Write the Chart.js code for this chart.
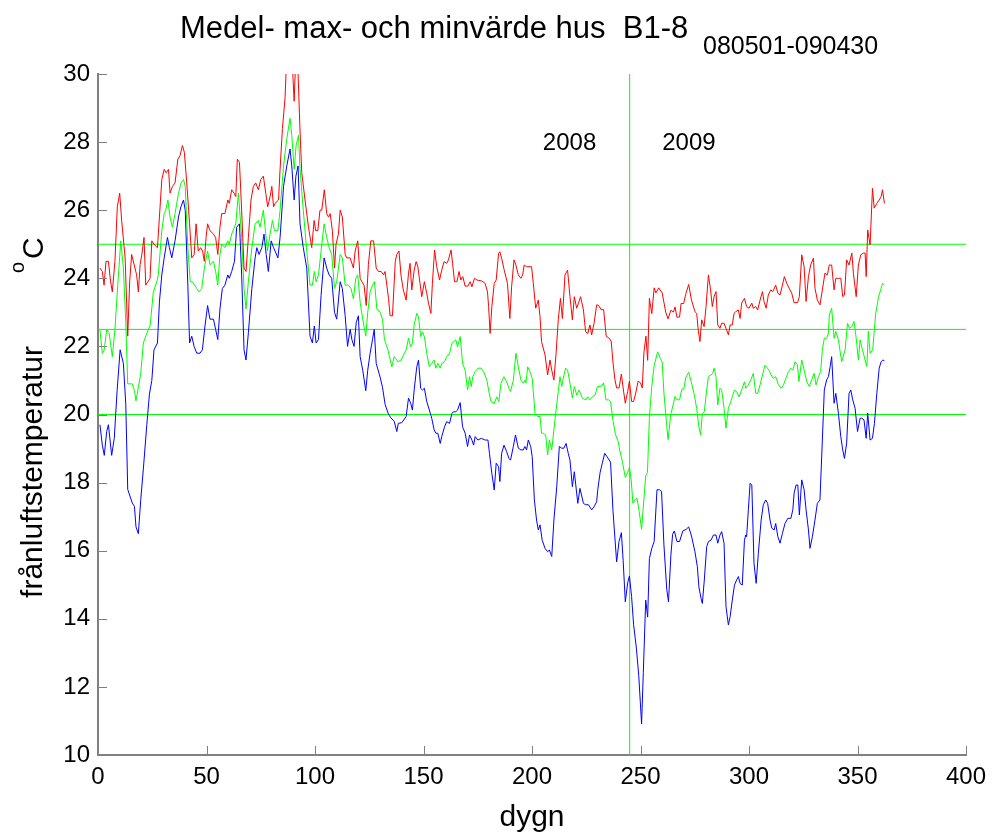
<!DOCTYPE html>
<html>
<head>
<meta charset="utf-8">
<script src="https://cdn.jsdelivr.net/npm/chart.js@4.4.1/dist/chart.umd.min.js"></script>
<style>
html,body{margin:0;padding:0;background:#ffffff;}
#wrap{width:992px;height:835px;position:relative;}
</style>
</head>
<body>
<div id="wrap"><canvas id="c" width="992" height="835"></canvas></div>
<script>
// ---- chart text ----
const titleText = "Medel- max- och minvärde hus  B1-8";
const subtitleText = "080501-090430";
const xLabel = "dygn";
const yLabel = "frånluftstemperatur";
const yUnit = "C";
const yearLabels = [{ text: "2008", day: 205, temp: 27.77 }, { text: "2009", day: 260, temp: 27.77 }];

// ---- axes ----
const xTicks = [0, 50, 100, 150, 200, 250, 300, 350, 400];
const yTicks = [10, 12, 14, 16, 18, 20, 22, 24, 26, 28, 30];

// ---- reference lines ----
const refLevels = [25, 22.5, 20];
const yearBoundaryDay = 245;

// ---- series: [day, °C] ----
const maxTemp = [[0.9,24.3],[2,24.2],[2.8,23.8],[3.7,24.5],[4.8,24.5],[5.8,23.9],[6.6,23.6],[7.8,24.5],[8.9,26.1],[10,26.5],[10.9,25.7],[12.5,24.6],[13.7,22.3],[14.6,23.9],[15.5,24.7],[17.8,24.1],[18.6,23.6],[19.4,24.4],[20.2,24.7],[21.2,25.2],[22,23.8],[24,24],[24.8,25.1],[25.8,25],[27.4,24.9],[29.4,26.9],[30.5,27.2],[31.4,27.1],[32.5,27.2],[33.2,26.5],[34.3,26.7],[35.5,26.8],[36.8,27.5],[37.8,27.6],[38.9,27.9],[39.8,27.7],[40.9,26.8],[42.2,25.6],[43.2,24.6],[44.3,24.7],[45.2,25.6],[46.2,24.8],[47.3,24.9],[48.2,24.8],[49,24.5],[49.8,25.2],[50.5,25.6],[51.6,25.4],[53.2,25.3],[54.2,25.2],[55.2,24.7],[56.2,25.5],[57,25.9],[58.5,25.9],[59.8,26.3],[60.5,26.2],[61.6,26.6],[62.7,26.5],[63.5,26.4],[64.2,27.5],[65.2,27.4],[66.2,26],[67.3,24.3],[68.2,24.2],[69.3,25.2],[70.5,26.3],[71.6,26.7],[72.7,26.8],[73.9,26.6],[75,26.9],[76.2,27],[77.3,26.5],[78.2,26.1],[79.3,26.4],[80.1,26.7],[80.9,26.1],[81.6,26.2],[83.2,26.3],[83.9,27.2],[85,28.4],[86.2,29.3],[87,30.6],[88.5,31],[89.3,30.6],[90.4,29.2],[91.2,30.6],[92,30.4],[93,28.5],[93.9,27.1],[95.4,26.3],[97,25.5],[98.5,24.9],[99.6,25.7],[100.3,25.4],[101.3,25.4],[102.3,26],[103.1,26],[104.3,26.6],[105.4,25.9],[106.2,25.8],[107,25.9],[108,25.4],[109,24.3],[109.7,25],[110.8,25.3],[111.6,26],[112.6,25.8],[113.9,24.7],[114.6,24.6],[116.2,24.6],[117.7,24.3],[118.5,24.8],[119.7,25.1],[120.8,24],[121.6,23.9],[122.6,23.8],[123.6,23.2],[124.6,24.4],[125.7,25.1],[127,25.1],[128.2,24.3],[129.3,24.2],[130.5,24.2],[131.6,24.1],[132.3,24.2],[133.9,23.4],[134.6,22.9],[135.7,22.9],[137,24.5],[137.7,24.7],[138.7,24.8],[139.7,24.05],[140.7,23.66],[142,23.36],[143.1,24.15],[143.8,24.44],[144.6,23.66],[145.7,24.24],[146.6,24.49],[147.4,24.34],[148.4,23.85],[149.2,23.46],[150.4,23.9],[151.5,23.56],[152.3,23.27],[153.4,22.97],[154.1,23.85],[155.1,24.83],[156.1,24.34],[157.4,23.95],[158.4,24.24],[159.5,24.49],[160.7,24.44],[161.5,24.54],[162.7,24.83],[163.4,24.44],[164.3,23.9],[165.4,23.9],[166.4,24.2],[167.2,23.95],[168.1,24.05],[169.2,23.77],[170.4,23.77],[171.5,23.9],[172.3,23.75],[173.5,24],[174.6,23.95],[176.9,23.92],[178.4,23.85],[179.5,23.6],[180,23.17],[180.7,22.38],[181.5,23.17],[182.6,23.85],[183.5,23.95],[184.6,24.73],[185.2,24.78],[186,24.59],[187.2,24.24],[188.7,23.85],[189.8,22.82],[190.6,23.75],[191.7,24.54],[192.6,24.39],[193.7,24.1],[194.9,24],[195.7,24.1],[196.4,24.39],[197.5,24.34],[199.8,24.34],[200.6,23.85],[201.7,23.12],[202.9,23.36],[203.7,22.87],[204.4,22.14],[206,21.75],[207.2,21.16],[208.3,21.6],[209.1,21.3],[210.1,21.01],[211.1,21.8],[212.1,22.78],[213.1,23.41],[214,22.82],[215.2,24.1],[216.4,24.24],[217.5,23.46],[218.6,22.78],[219.5,23.46],[220.6,23.12],[221.4,23.27],[222.4,23.46],[223.7,23.07],[224.7,22.43],[225.7,22.38],[226.7,22.63],[227.5,22.34],[228.6,22.68],[229.8,23.22],[230.6,23.21],[231.9,23.08],[233,23.08],[234.2,22.3],[235.4,22.25],[236.5,22.15],[237.3,21.54],[238.2,21.03],[239,20.78],[240.1,20.78],[241.2,21.19],[242,20.78],[243,20.33],[244.1,20.68],[244.9,20.98],[245.9,20.38],[246.8,20.38],[247.8,20.63],[248.9,20.98],[250,20.93],[250.8,20.78],[251.6,21.84],[252.5,22.3],[253.3,21.59],[254.1,23.41],[255.2,22.96],[256.3,23.72],[257.1,23.57],[258.4,23.72],[260,23.57],[261.6,23.01],[262.7,22.81],[264,23.06],[265.2,23.01],[265.9,23.16],[266.8,22.86],[268,22.86],[268.7,23.26],[269.9,23.26],[270.8,23.52],[272.2,23.82],[273.5,23.36],[275.1,23.02],[275.9,22.97],[276.6,22.48],[277.4,22.14],[278.2,22.78],[279.3,22.58],[280.2,23.17],[281.3,24.1],[282.3,23.66],[283.1,23.17],[283.9,23.46],[284.8,23.61],[285.6,22.63],[286.6,22.53],[287.4,22.68],[288.5,22.68],[289.4,22.53],[290.5,22.34],[291.3,22.63],[292.3,22.63],[293.1,22.97],[293.9,23.02],[295.1,23.07],[295.9,22.82],[296.6,23.27],[297.9,23.41],[298.9,23.17],[300,23.12],[301.3,23.27],[302,23.12],[303.1,23.17],[304,23.07],[305.1,23.36],[306.2,23.61],[306.9,23.32],[307.9,23.12],[308.9,23.51],[310,23.66],[311,23.61],[312.3,23.8],[313.3,23.56],[314.3,23.51],[315.4,23.8],[316.3,24.05],[317.4,23.85],[318.5,23.71],[319.7,23.56],[320.8,23.28],[322.4,23.29],[323.2,23.46],[324.3,24.69],[325.4,24.34],[326.3,23.32],[327.4,24.05],[328.4,24.39],[329.7,24.59],[330.4,23.71],[331.5,23.36],[332.7,23.22],[333.8,23.66],[335,24.15],[336.1,24.1],[337,24.39],[338.1,24.39],[339.2,23.66],[340,24],[341.2,24],[342.3,24],[343.2,23.46],[344,23.51],[345,24.54],[346.1,24.39],[347.4,24.74],[348.1,24.15],[349.4,23.46],[350.4,24.39],[351.5,24.69],[352.7,24.74],[353.5,24.74],[354,24.05],[354.7,25.42],[355.8,24.98],[356.9,26.64],[357.7,26.06],[358.9,26.2],[360,26.3],[360.9,26.4],[361.5,26.6],[362.4,26.2]];

const meanTemp = [[0.9,22.48],[2,21.8],[2.9,21.9],[4,22.5],[5.1,22.4],[6.6,21.7],[7.8,22.5],[9.1,23.8],[10.5,25.1],[11.7,24.3],[12.8,22.7],[13.7,20.9],[15.1,20.9],[15.8,20.9],[16.8,20.7],[17.5,20.4],[18.6,20.8],[19.7,21.2],[20.9,22.1],[22,22.3],[23.2,22.5],[24,22.6],[25.5,23.6],[27.1,23.9],[27.8,24.1],[29.4,25.4],[30.5,25.9],[31.2,26],[32.2,26.3],[33.2,25.8],[34.3,25.5],[35.5,25.9],[37.1,26.5],[38.3,26.8],[39.4,26.9],[40.2,26.7],[41.4,24.9],[42.5,23.9],[43.5,23.9],[44.5,23.8],[45.5,23.7],[46.5,23.6],[47.8,23.7],[49,24.3],[50.5,24.8],[51.6,24.4],[53.2,24.5],[54.2,24.2],[55.2,23.8],[56.2,24.7],[57,25],[58.5,24.9],[59.8,25.1],[60.5,25],[61.6,25.3],[63.5,25.6],[64.7,26.5],[66.2,25.2],[67.3,23.7],[68.2,23.1],[69.3,23.9],[70.9,24.9],[72.4,25.6],[73.9,25.7],[74.7,25.5],[76.2,26],[77,25.5],[78.1,24.8],[79.3,25.3],[80.4,25.7],[81.3,25.4],[82.9,25.4],[83.9,26],[85.5,27.3],[87,28.1],[88.5,28.7],[89.3,28.2],[90.4,27.2],[91.3,27.9],[92.4,28.2],[93.1,27.2],[94.6,26],[96.2,24.8],[97.7,23.8],[98.8,23.8],[99.7,24.2],[100.5,23.9],[101.6,24.1],[102.8,24.8],[104.2,25.6],[105.4,25.2],[106.5,24.9],[107.7,24.7],[109,23.7],[110,23.9],[111.6,24.7],[112.6,24.6],[113.9,23.8],[115.4,23.8],[116.6,23.7],[117.7,23.4],[118.8,24],[119.7,24.1],[120.8,23.3],[122,22.8],[123.4,22.3],[124.3,23],[125.4,23.6],[126.5,23.8],[127.4,23.9],[128.5,23.1],[130,23],[131.1,22.8],[132,22.2],[133.6,21.9],[135.4,21.4],[136.5,21.7],[137.7,21.6],[138.1,21.55],[139.7,21.6],[141.2,21.8],[142,21.9],[143.1,22.24],[144.1,21.99],[144.9,22.09],[145.7,22.63],[146.9,22.97],[147.7,22.87],[148.7,22.29],[149.5,22.43],[150.4,22.29],[151.5,21.8],[152.7,21.4],[153.8,21.5],[154.9,21.6],[155.7,21.36],[156.6,21.5],[157.7,21.36],[158.4,21.5],[159.7,21.55],[160.7,21.7],[162,21.8],[163.1,22.09],[163.8,22.14],[164.9,22.19],[165.7,21.99],[166.9,22.29],[168,21.5],[169.2,21.3],[170.3,20.72],[171.2,21.11],[172,20.82],[172.7,21.11],[173.8,21.26],[175.1,21.36],[176.6,21.36],[177.7,21.26],[179.2,21.01],[180,20.72],[181.1,20.38],[182.6,20.33],[183.8,20.52],[184.7,20.38],[185.7,20.92],[187.1,21.11],[188.3,20.96],[189.4,20.77],[190.1,20.67],[191.4,21.01],[192.6,21.8],[193.7,21.4],[194.9,21.01],[196,20.92],[196.7,21.01],[197.2,20.92],[198,21.4],[199.1,21.26],[200.1,21.06],[201.4,20.03],[202.6,19.94],[203.7,19.94],[204.4,19.45],[205.2,19.45],[206.3,19.4],[207.2,18.81],[208,19.25],[209.1,18.96],[210.1,19.55],[211.1,20.13],[212.1,20.67],[212.9,21.11],[213.7,20.82],[214.4,21.06],[215.5,21.36],[216.4,21.3],[217.5,20.92],[218.6,20.48],[219.5,20.82],[220.6,20.57],[221.7,20.72],[223.2,20.48],[224.7,20.43],[225.7,20.52],[226.7,20.43],[227.8,20.52],[229.1,20.57],[230.1,20.82],[231.9,20.83],[233,20.93],[234.1,20.43],[235.4,20.43],[236.2,20.38],[237.3,19.82],[238.5,19.41],[239.7,19.21],[240.4,18.96],[241.7,18.6],[243,18.15],[244.1,18.3],[244.9,18.45],[245.7,18.1],[246.5,17.39],[247.3,17.49],[248.4,17.54],[249.3,17.19],[250.5,16.63],[251.3,17.29],[252.4,18.2],[253.2,18.3],[254.1,19.92],[255.2,20.83],[256.3,21.44],[257.9,21.84],[259.2,21.64],[260,21.54],[260.8,20.63],[261.9,19.82],[262.7,19.26],[264,20.02],[264.8,20.22],[265.9,20.53],[266.8,20.43],[268,20.43],[269.1,20.75],[270,20.75],[270.8,21.08],[272.2,21.24],[273.5,20.93],[274.8,20.58],[275.9,20.17],[276.9,19.64],[277.7,19.4],[278.5,20.03],[279.4,20.08],[280.5,20.72],[281.3,21.11],[282.5,21.16],[283.3,21.21],[283.9,21.36],[284.8,21.11],[285.6,20.28],[286.6,20.77],[287.4,20.72],[288.5,20.18],[289.4,19.6],[290.5,20.18],[291.6,20.38],[292.3,20.52],[293.3,20.72],[294.3,20.67],[295.4,20.52],[296.6,20.72],[297.9,20.96],[298.5,20.77],[299.7,20.87],[300.8,21.01],[302,21.21],[303.1,20.62],[304,20.62],[305.1,20.87],[306.2,21.16],[307.4,21.45],[308.5,21.36],[309.3,21.3],[310.2,21.16],[311.3,21.06],[312.3,21.11],[313.6,20.87],[314.8,20.77],[315.9,20.87],[317,21.06],[318.2,21.26],[319.3,21.36],[320.2,21.3],[321.2,21.55],[322.3,21.46],[323,20.97],[324.3,21.6],[325.4,21.31],[326.6,20.97],[327.8,20.82],[328.9,21.02],[330,21.21],[330.9,20.87],[332,21.11],[333,21.26],[333.8,21.9],[334.7,22.24],[335.8,22.24],[336.6,22.39],[337,22.92],[338.1,23.12],[339.2,22.24],[340,22.44],[341.2,22.19],[342.7,21.55],[344.3,21.9],[345.4,22.68],[346.3,22.53],[347.4,22.58],[348.4,22.73],[349.4,22.24],[350.4,21.6],[351.2,22.19],[352.3,21.9],[353.5,21.6],[354.3,21.41],[355,22.44],[355.8,21.8],[357,21.9],[358.4,22.97],[359.7,23.46],[360.7,23.66],[361.5,23.85],[362.4,23.8]];

const minTemp = [[0.9,19.7],[2,19.1],[2.9,18.8],[4,19.5],[4.8,19.7],[6.3,18.8],[7.5,19.3],[8.8,20.7],[10.2,21.9],[11.7,21.5],[12.8,20.3],[13.7,17.8],[15.8,17.4],[16.8,17.3],[17.5,16.7],[18.6,16.5],[19.7,17.5],[20.9,18.4],[22.5,19.7],[23.7,20.6],[24.8,21],[25.8,21.9],[27.4,22.1],[28.3,23.3],[29.4,24.1],[30.5,24.6],[32,25.2],[32.9,24.9],[34,24.6],[35.5,25.1],[37.1,25.8],[38.2,26.1],[39.4,26.3],[40.2,26],[41.4,23.8],[42.2,22.1],[43.2,22.3],[44.3,22],[45.5,21.8],[47,21.8],[48.1,21.9],[49.3,22.6],[50.5,23.2],[51.6,22.8],[53.2,22.8],[54.2,22.5],[55.2,22.2],[56.2,23.1],[57.3,23.7],[58.5,23.8],[59.8,24.1],[60.5,24],[61.6,24.2],[62.9,24.5],[63.9,25.5],[65.2,25.6],[66.2,24.1],[67.3,21.9],[68.2,21.6],[69.3,22.4],[70.9,23.7],[72.4,24.6],[73.2,24.9],[74.2,24.7],[75.5,24.9],[76.5,25.3],[77.5,24.7],[78.5,24.2],[79.8,25.1],[80.9,24.9],[81.6,24.8],[82.9,24.6],[83.9,25.2],[85.5,26.7],[87,27.3],[88.5,27.8],[89.3,27.3],[90.4,26.3],[91.2,27],[92.2,27.3],[93.1,25.6],[94.6,24.9],[96.2,24.3],[97.7,22.3],[98.8,22.1],[99.7,22.6],[100.5,22.1],[101.6,22.2],[102.8,23.5],[104.2,24.6],[105.4,24.3],[106.5,24.1],[107.7,24],[109,23],[110,22.8],[111.6,23.9],[112.6,23.7],[113.9,22.9],[115,22],[116.2,22.5],[117,22.2],[118,22],[119,22.7],[120,22.9],[120.8,21.7],[122,21.3],[123.4,20.7],[124.3,21.3],[125.4,21.8],[126.5,22.2],[127.3,22.5],[128.2,21.5],[130,21.1],[131.1,20.8],[132.3,20.3],[133.9,20],[135,19.9],[136.5,19.8],[137.7,19.5],[138.4,19.74],[140,19.76],[142,19.94],[143.1,20.48],[144.1,20.33],[144.9,20.13],[145.7,20.72],[146.9,21.4],[147.7,21.6],[148.7,20.77],[149.5,20.72],[150.4,20.77],[151.5,20.38],[152.7,20.13],[153.8,19.89],[154.9,19.55],[155.7,19.45],[156.6,19.45],[157.7,19.15],[158.4,19.35],[159.7,19.64],[160.7,19.79],[162,19.74],[163.1,20.03],[163.8,20.08],[164.9,20.08],[165.7,20.13],[166.9,20.35],[168,19.64],[169.2,19.45],[170.3,19.06],[171.2,19.4],[172.3,19.25],[173.1,19.1],[173.8,19.35],[175.1,19.25],[176.6,19.3],[178.4,19.25],[179.7,19.25],[180.4,18.86],[181.5,18.27],[182.6,17.78],[183.5,18.57],[184.6,18.47],[185.2,18.03],[186,18.86],[187.1,19.1],[188.3,18.91],[189.4,18.71],[190.1,18.66],[191.4,19.06],[192.4,19.4],[193.7,19.01],[194.9,18.96],[196,18.96],[196.7,19.06],[197.5,18.96],[198.3,19.25],[199.4,19.06],[200.1,18.76],[201.1,17.49],[202.1,16.9],[202.9,16.61],[203.7,16.76],[204.7,16.31],[206,16.07],[207.2,15.97],[208,16.02],[209.1,15.83],[210.1,16.9],[211.4,17.88],[212.6,19.06],[213.7,19.01],[214.7,19.01],[215.7,19.15],[216.7,18.86],[217.5,18.66],[218.6,17.88],[219.5,18.32],[221.1,17.39],[222.1,17.83],[223.7,17.39],[224.7,17.35],[226,17.35],[227.5,17.2],[228.6,17.29],[229.8,17.44],[230.3,17.79],[231.4,18.3],[232.5,18.6],[233.5,18.86],[234.6,18.76],[236.2,18.6],[237.3,17.19],[238.2,16.38],[239,15.67],[240.1,16.27],[241.2,16.53],[242,15.72],[243,14.5],[244.1,15.06],[244.9,15.26],[245.9,14.65],[246.8,13.84],[248.1,13.14],[249.2,12.33],[250.5,10.91],[251.3,12.43],[252.4,14.55],[253.3,14.05],[254.1,15.77],[255.2,16.07],[256.3,16.27],[257.6,17.79],[258.7,17.79],[259.7,17.74],[260.8,16.17],[262.1,14.86],[262.9,14.5],[264,15.87],[264.8,16.48],[265.6,16.58],[266.8,16.27],[268,16.27],[269.5,16.58],[271.1,16.63],[272.2,16.7],[273.5,16.43],[275.1,15.97],[276.2,15.53],[276.9,14.94],[277.9,14.6],[278.5,14.45],[279.4,15.14],[280.5,16.12],[281.3,16.27],[282.5,16.31],[283.6,16.46],[284.8,16.46],[285.6,16.22],[286.6,16.46],[287.4,16.56],[288.5,16.22],[289.4,14.36],[290.5,13.82],[291.3,14.06],[292.3,14.55],[293.3,14.99],[294.3,15.14],[295.1,15.24],[295.9,15.04],[296.9,14.99],[297.9,16.31],[298.5,16.46],[298.9,16.41],[299.7,17.2],[300.5,17.98],[301.3,17.93],[302.3,15.63],[303.3,15.04],[304.3,15.92],[305.6,16.9],[306.6,17.35],[307.7,17.49],[308.6,17.39],[309.7,16.9],[310.5,16.66],[311.6,16.61],[312.3,16.8],[313.3,16.41],[314.3,16.22],[315.4,16.51],[316.6,16.8],[317.9,16.95],[319.3,16.95],[320.2,17.2],[320.8,17.69],[321.7,17.93],[322.5,17.93],[323.2,17.05],[324.3,18.08],[325.4,17.79],[326.3,17.2],[327.4,16.61],[328.1,16.07],[329.2,16.41],[330.4,16.9],[331.5,17.39],[332.7,17.49],[333.8,19.25],[334.7,20.72],[335.8,21.02],[336.6,21.11],[337.4,21.41],[338.1,21.7],[339.2,20.33],[340,20.62],[341.2,20.04],[342.3,19.35],[343.2,18.96],[344,18.71],[345,19.16],[346.1,20.62],[346.9,20.72],[347.8,20.43],[348.9,20.18],[350,19.5],[351.2,19.89],[352,19.89],[353,19.84],[354,19.3],[354.7,20.04],[355.8,19.25],[356.9,19.3],[357.8,19.74],[358.9,20.62],[360,21.36],[360.9,21.55],[361.7,21.6],[362.4,21.58]];

// ---- build datasets ----
const FONT = "'Liberation Sans', Arial, Helvetica, sans-serif";
const toXY = arr => arr.map(p => ({ x: p[0], y: p[1] }));
const xMin = xTicks[0], xMax = xTicks[xTicks.length - 1];
const yMin = yTicks[0], yMax = yTicks[yTicks.length - 1];

function lineDs(data, color) {
  return { data, borderColor: color, backgroundColor: color, borderWidth: 1, pointRadius: 0, fill: false, tension: 0 };
}

const datasets = [
  lineDs(toXY(maxTemp), '#ff0000'),
  lineDs(toXY(meanTemp), '#00ff00'),
  lineDs(toXY(minTemp), '#0000ff'),
  ...refLevels.map(v => lineDs([{ x: xMin, y: v }, { x: xMax, y: v }], '#00ff00')),
  lineDs([{ x: yearBoundaryDay, y: yMin }, { x: yearBoundaryDay, y: yMax }], '#00ff00')
];

const decor = {
  id: 'decor',
  afterDraw(chart) {
    const c = chart.ctx, xs = chart.scales.x, ys = chart.scales.y;
    const a = chart.chartArea;
    c.save();
    // inward ticks
    c.strokeStyle = '#808080';
    c.lineWidth = 1;
    c.beginPath();
    yTicks.forEach(t => { const y = Math.round(ys.getPixelForValue(t)) + 0.5; c.moveTo(a.left, y); c.lineTo(a.left + 9, y); });
    xTicks.forEach(t => { const x = Math.round(xs.getPixelForValue(t)) + 0.5; c.moveTo(x, a.bottom); c.lineTo(x, a.bottom - 9); });
    c.stroke();
    c.fillStyle = '#000';
    // title
    c.textBaseline = 'alphabetic';
    c.textAlign = 'left';
    c.font = '31px ' + FONT;
    c.fillText(titleText, 180, 38);
    c.font = '25px ' + FONT;
    c.fillText(subtitleText, 703, 54);
    // year labels
    c.font = '24px ' + FONT;
    yearLabels.forEach(l => { c.fillText(l.text, xs.getPixelForValue(l.day), ys.getPixelForValue(l.temp)); });
    // x label
    c.textAlign = 'center';
    c.font = '30px ' + FONT;
    c.fillText(xLabel, (a.left + a.right) / 2, 826);
    // y label rotated
    c.save();
    c.translate(42, 472);
    c.rotate(-Math.PI / 2);
    c.fillText(yLabel, 0, 0);
    c.restore();
    c.save();
    c.translate(43, 275);
    c.rotate(-Math.PI / 2);
    c.textAlign = 'left';
    c.font = '20px ' + FONT;
    c.fillText('o', 2, -19);
    c.font = '30px ' + FONT;
    c.fillText(yUnit, 16, 0);
    c.restore();
    c.restore();
  }
};

new Chart(document.getElementById('c'), {
  type: 'line',
  data: { datasets },
  options: {
    responsive: false,
    animation: false,
    devicePixelRatio: 1,
    layout: { padding: { top: 74, right: 26, left: 0, bottom: 0 } },
    plugins: { legend: { display: false }, tooltip: { enabled: false }, title: { display: false } },
    scales: {
      x: {
        type: 'linear', min: xMin, max: xMax,
        afterBuildTicks: s => { s.ticks = xTicks.map(v => ({ value: v })); },
        afterFit: s => { s.height = 80; s.paddingLeft = 0; s.paddingRight = 0; },
        ticks: { color: '#000', font: { family: FONT, size: 24 }, padding: 8, maxRotation: 0, autoSkip: false },
        grid: { display: false, drawTicks: false },
        border: { display: true, color: '#808080', width: 2 }
      },
      y: {
        type: 'linear', min: yMin, max: yMax,
        afterBuildTicks: s => { s.ticks = yTicks.map(v => ({ value: v })); },
        afterFit: s => { s.width = 98; s.paddingTop = 0; s.paddingBottom = 0; },
        ticks: { color: '#000', font: { family: FONT, size: 24 }, padding: 8, autoSkip: false },
        grid: { display: false, drawTicks: false },
        border: { display: true, color: '#808080', width: 2 }
      }
    }
  },
  plugins: [decor]
});
</script>
</body>
</html>
